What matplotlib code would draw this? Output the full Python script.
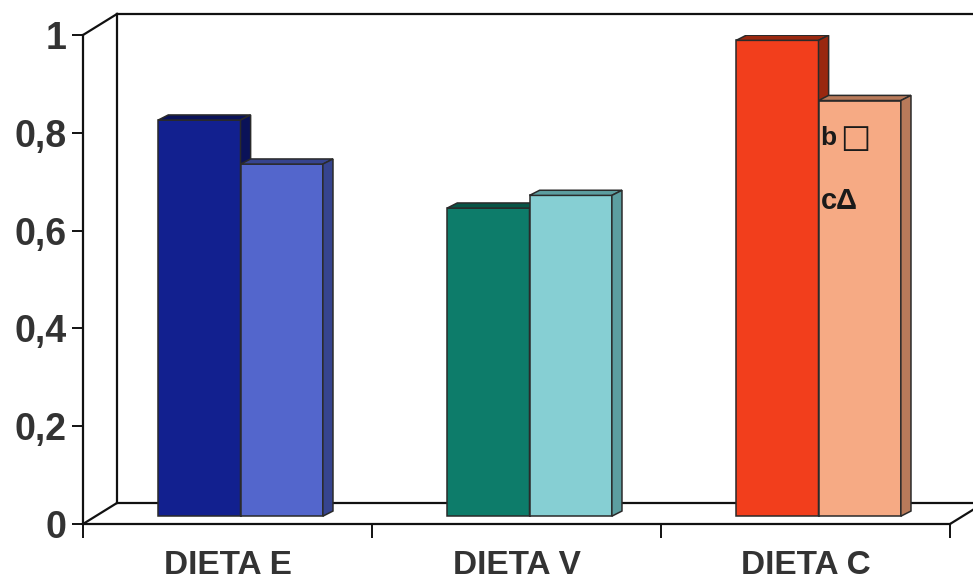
import matplotlib
matplotlib.use("Agg")
import matplotlib.pyplot as plt
from matplotlib.patches import Polygon

categories = ["DIETA E", "DIETA V", "DIETA C"]
serie_1 = [0.81, 0.63, 0.973]
serie_2 = [0.72, 0.656, 0.85]
yticks = [0, 0.2, 0.4, 0.6, 0.8, 1]
ytick_labels = ["0", "0,2", "0,4", "0,6", "0,8", "1"]
notes = ["b\u25a1", "c\u0394"]

front_colors_1 = ["#12208f", "#0d7c6a", "#f23e1c"]
front_colors_2 = ["#5366cc", "#86cfd3", "#f6aa84"]
shade_1 = ["#0a1258", "#085446", "#9a2810"]
shade_2 = ["#36448f", "#5c9ea0", "#b87a5a"]

plt.rcParams["font.family"] = ["Liberation Sans", "DejaVu Sans"]

fig = plt.figure(figsize=(9.73, 5.80), dpi=100)
ax = fig.add_axes([83 / 973, 56 / 580, 867 / 973, 489 / 580])
ax.set_xlim(0, 3)
ax.set_ylim(0, 1)

# depth of the floor/back wall and of the bars, in data units
DX, DY = 0.1176, 0.043
dx, dy = 0.035, 0.0105
bar_w = 0.285
shift = 0.045
base = 0.016

frame = dict(color="#111111", lw=1.6, clip_on=False, zorder=1)
ax.plot([0, DX], [1, 1 + DY], **frame)
ax.plot([DX, 3 + DX + 0.2], [1 + DY, 1 + DY], **frame)
ax.plot([DX, DX], [DY, 1 + DY], **frame)
ax.plot([DX, 3 + DX + 0.2], [DY, DY], **frame)
ax.plot([0, DX], [0, DY], **frame)
ax.plot([3, 3 + DX], [0, DY], **frame)


def bar3d(x0, h, face, shade):
    top = base + h
    ax.add_patch(Polygon([(x0, base), (x0 + bar_w, base), (x0 + bar_w, top), (x0, top)],
                         closed=True, fc=face, ec="#2a2a2a", lw=1.1, zorder=3))
    ax.add_patch(Polygon([(x0, top), (x0 + dx, top + dy), (x0 + bar_w + dx, top + dy),
                          (x0 + bar_w, top)],
                         closed=True, fc=shade, ec="#2a2a2a", lw=1.1, zorder=3))
    ax.add_patch(Polygon([(x0 + bar_w, base), (x0 + bar_w + dx, base + dy),
                          (x0 + bar_w + dx, top + dy), (x0 + bar_w, top)],
                         closed=True, fc=shade, ec="#2a2a2a", lw=1.1, zorder=3))


for i in range(len(categories)):
    c = i + 0.5 + shift
    bar3d(c - bar_w, serie_1[i], front_colors_1[i], shade_1[i])
    bar3d(c, serie_2[i], front_colors_2[i], shade_2[i])

# significance marks on the DIETA C bar
note_style = dict(fontweight="bold", color="#1a1a1a", va="center", ha="left", zorder=4)
ax.text(2.55, 0.79, notes[0][0], fontsize=19, **note_style)
ax.text(2.62, 0.789, notes[0][1], fontsize=23, family="DejaVu Sans",
        fontweight="bold", color="#1a1a1a", va="center", ha="left", zorder=4)
ax.text(2.553, 0.66, notes[1], fontsize=21, **note_style)

for s in ["top", "right"]:
    ax.spines[s].set_visible(False)
for s in ["left", "bottom"]:
    ax.spines[s].set_linewidth(1.6)
    ax.spines[s].set_color("#111111")

ax.set_yticks(yticks, ytick_labels)
ax.tick_params(axis="y", length=8, width=1.4, pad=4, labelsize=27, colors="#111111",
               labelcolor="#333333")
for lab in ax.get_yticklabels():
    lab.set_fontweight("bold")

ax.set_xticks([0, 1, 2, 3], ["", "", "", ""])
ax.tick_params(axis="x", which="major", length=10, width=1.4, colors="#111111")
ax.set_xticks([0.5, 1.5, 2.5], categories, minor=True)
ax.tick_params(axis="x", which="minor", length=0, pad=19, labelsize=24,
               labelcolor="#333333")
for lab in ax.get_xticklabels(minor=True):
    lab.set_fontweight("bold")

fig.savefig("out.png", dpi=100)
